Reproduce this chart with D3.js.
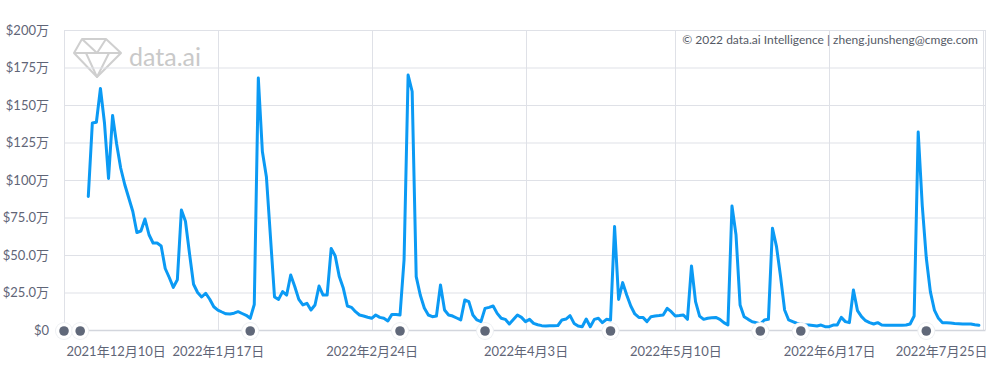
<!DOCTYPE html>
<html>
<head>
<meta charset="utf-8">
<script src="https://cdn.jsdelivr.net/npm/d3@7"></script>
<style>
  html, body { margin: 0; padding: 0; background: #fff; }
  svg { display: block; font-family: "Lato", "Noto Sans CJK SC", sans-serif; }
</style>
</head>
<body>
<div id="chart"></div>
<script>
// daily revenue, in 万 USD, starting 2021-12-16
const startDate = "2021-12-16";
const revenue = [
  89, 138, 138.5, 161, 138, 101, 143, 124, 108, 97,
  88, 79, 65, 66, 74, 63.5, 58, 58, 56, 41,
  35, 28.4, 33.5, 80, 72.5, 51, 30.5, 25, 22, 24.5,
  20.5, 15.5, 13.3, 12, 10.8, 10.7, 11.2, 12.2, 11, 9.8,
  7.8, 17, 168, 119, 102, 62, 22, 20.4, 25.6, 23.3,
  36.7, 29, 20.4, 16.7, 17.8, 13.3, 16.7, 29.3, 23.3, 23.3,
  54.4, 49.3, 35.6, 27.8, 16, 15.1, 12.2, 10, 9.3, 8.5,
  7.8, 10, 8.4, 7.8, 6, 10.4, 10.4, 10, 46.7, 170,
  159, 35.6, 23.3, 14.7, 10, 8.9, 9.3, 30, 13.3, 10,
  9.3, 8, 6.7, 20, 18.9, 10, 6.7, 5.6, 14.4, 15.1,
  16, 11.1, 7.8, 7.1, 4, 7, 10, 8.4, 5.6, 7.1,
  4.4, 3.5, 2.9, 2.7, 2.8, 2.9, 3, 6.7, 7.3, 9.6,
  4.4, 2.7, 2.2, 7.3, 2.2, 7.1, 7.8, 4.9, 7.1, 6.7,
  69, 20.4, 31.6, 23.3, 16, 10.7, 8.4, 8.4, 5.6, 8.9,
  9.3, 9.6, 10, 14.4, 12.2, 9.3, 9.6, 10, 7.1, 42.7,
  18.9, 9.3, 7.1, 7.8, 8.2, 8.4, 7.1, 4.9, 3.3, 82.7,
  63.3, 16.7, 8.9, 7.1, 5.5, 4.9, 4, 6.7, 7.1, 67.8,
  55.6, 35.6, 13.3, 6.7, 5.6, 4.5, 4, 3.3, 3.3, 3,
  2.7, 3.3, 2.2, 2.2, 3.3, 3.3, 8.4, 5.6, 4.9, 26.7,
  12.9, 8.9, 6.2, 4.9, 4, 4.9, 3.3, 3.1, 3.1, 3.1,
  3.1, 3.1, 3.3, 4, 9.3, 132, 83, 48, 25.6, 13.3,
  7.8, 4.9, 4.9, 4.7, 4.4, 4.2, 4, 4, 4, 3.5,
  3.1
];

// event markers along the bottom axis
const eventDates = ["2021-12-10", "2021-12-14", "2022-01-25", "2022-03-03", "2022-03-24",
  "2022-04-24", "2022-05-31", "2022-06-10", "2022-07-11"];

const xTickDates = ["2021-12-10", "2022-01-17", "2022-02-24", "2022-04-03",
  "2022-05-10", "2022-06-17", "2022-07-25"];
const yTicks = [0, 25, 50, 75, 100, 125, 150, 175, 200];
const yTickLabels = ["$0", "$25.0万", "$50.0万", "$75.0万", "$100万", "$125万", "$150万", "$175万", "$200万"];

const width = 992, height = 382;
const margin = { top: 30, right: 7, bottom: 52, left: 64 };

const parse = d3.timeParse("%Y-%m-%d");
const t0 = parse(startDate);
const data = revenue.map((v, i) => ({ date: d3.timeDay.offset(t0, i), value: v }));

const svg = d3.select("#chart").append("svg")
  .attr("width", width)
  .attr("height", height);

const x = d3.scaleTime()
  .domain([parse("2021-12-10"), d3.timeHour.offset(parse("2022-07-25"), 12)])
  .range([margin.left, width - margin.right]);

const y = d3.scaleLinear()
  .domain([0, 200])
  .range([height - margin.bottom, margin.top]);

// watermark
const wm = svg.append("g").attr("fill", "none").attr("stroke", "#cfcfcf")
  .attr("stroke-width", 2).attr("stroke-linejoin", "round");
wm.append("path").attr("d", "M82,39 L106,39 L121,53 L97,77 L74,53 Z");
wm.append("path").attr("d", "M74,53 L121,53 M82,39 L97,53 L106,39 M86,53 L97,77 L109,53");
svg.append("text")
  .attr("x", 129).attr("y", 66)
  .attr("fill", "#c9c9c9")
  .attr("font-size", 25)
  .text("data.ai");

// grid
svg.append("g")
  .selectAll("line")
  .data(yTicks.slice(1))
  .join("line")
  .attr("x1", margin.left).attr("x2", width - margin.right)
  .attr("y1", d => y(d) + 0.5).attr("y2", d => y(d) + 0.5)
  .attr("stroke", "#dfe1e7");

svg.append("g")
  .selectAll("line")
  .data(xTickDates.slice(1).map(parse).concat([x.domain()[0], x.domain()[1]]))
  .join("line")
  .attr("x1", d => Math.round(x(d)) + 0.5).attr("x2", d => Math.round(x(d)) + 0.5)
  .attr("y1", margin.top).attr("y2", y(0))
  .attr("stroke", "#dfe1e7");

// y axis
const yAxis = svg.append("g")
  .attr("transform", `translate(${margin.left - 12},0)`)
  .call(d3.axisLeft(y).tickValues(yTicks).tickSize(0)
    .tickFormat((d, i) => yTickLabels[i]));
yAxis.select(".domain").remove();
yAxis.selectAll("text")
  .attr("fill", "#5f6577")
  .attr("font-size", 13)
  .attr("font-family", "Lato, 'Noto Sans CJK SC', sans-serif");

// copyright
svg.append("text")
  .attr("x", 978).attr("y", 44)
  .attr("text-anchor", "end")
  .attr("fill", "#555a66")
  .attr("font-size", 12)
  .text("© 2022 data.ai Intelligence | zheng.junsheng@cmge.com");

// x axis
const xAxis = svg.append("g")
  .attr("transform", `translate(0,${y(0)})`)
  .call(d3.axisBottom(x).tickValues(xTickDates.map(parse)).tickSize(0).tickPadding(17)
    .tickFormat(d => `${d.getFullYear()}年${d.getMonth() + 1}月${d.getDate()}日`));
xAxis.select(".domain").attr("stroke", "#d3d6dd").attr("stroke-width", 1.5);
xAxis.selectAll("text")
  .attr("fill", "#5f6577")
  .attr("font-size", 13)
  .attr("font-family", "Lato, 'Noto Sans CJK SC', sans-serif");
xAxis.selectAll(".tick").filter((d, i) => i === 0).select("text")
  .attr("text-anchor", "start").attr("dx", 2);
xAxis.selectAll(".tick").filter((d, i) => i === xTickDates.length - 1).select("text")
  .attr("text-anchor", "end").attr("dx", 4);

// line
const line = d3.line()
  .x(d => x(d.date))
  .y(d => y(d.value));

svg.append("path")
  .datum(data)
  .attr("fill", "none")
  .attr("stroke", "#0b9af4")
  .attr("stroke-width", 3)
  .attr("stroke-linejoin", "round")
  .attr("stroke-linecap", "round")
  .attr("d", line);

// event markers
const ev = svg.append("g")
  .selectAll("g")
  .data(eventDates.map(parse))
  .join("g")
  .attr("transform", d => `translate(${x(d)},${y(0) + 1})`);
ev.append("circle").attr("r", 9).attr("fill", "#eef0f3");
ev.append("circle").attr("r", 8).attr("fill", "#fff");
ev.append("circle").attr("r", 4.8).attr("fill", "#606879");
</script>
</body>
</html>
